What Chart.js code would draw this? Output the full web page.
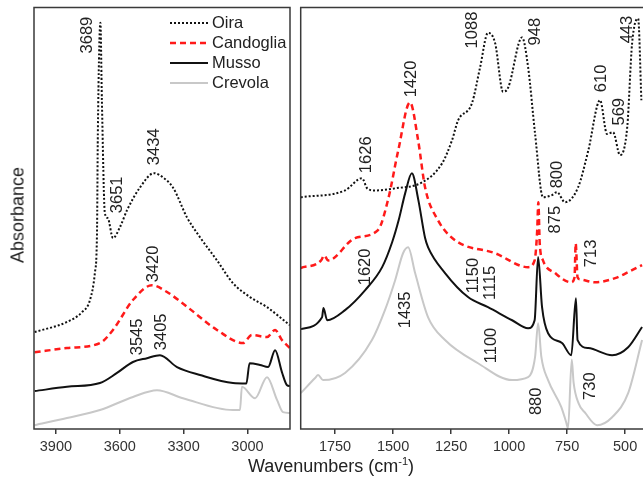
<!DOCTYPE html>
<html>
<head>
<meta charset="utf-8">
<script src="https://cdn.jsdelivr.net/npm/chart.js@4.4.0/dist/chart.umd.min.js"></script>
<style>
  html, body { margin: 0; padding: 0; background: #fff; width: 643px; height: 479px; overflow: hidden; }
  canvas { position: absolute; top: 0; }
  #leftChart { left: 0; }
  #rightChart { left: 293px; }
  .axis-title { position: absolute; font-family: "Liberation Sans", Arial, sans-serif; font-size: 18px; color: #222; white-space: nowrap; }
  .axis-title sup { font-size: 11px; line-height: 0; }
  #xTitle { left: 331px; top: 466px; transform: translate(-50%, -50%); }
  #yTitle { left: 18px; top: 215px; transform: translate(-50%, -50%) rotate(-90deg); }
</style>
</head>
<body>
<canvas id="leftChart" width="292" height="479"></canvas>
<canvas id="rightChart" width="350" height="479"></canvas>
<div id="xTitle" class="axis-title">Wavenumbers (cm<sup>-1</sup>)</div>
<div id="yTitle" class="axis-title">Absorbance</div>

<script>
// ---------------------------------------------------------------
// data (wavenumber / absorbance, arbitrary offset units)
// ---------------------------------------------------------------
const seriesNames = ['Oira', 'Candoglia', 'Musso', 'Crevola'];

const leftTicks = [3900, 3600, 3300, 3000];
const rightTicks = [1750, 1500, 1250, 1000, 750, 500];

// 4000 - 2800 cm-1
const oiraHighX = [4000, 3848, 3778, 3740, 3717, 3707, 3703, 3691, 3684, 3670, 3656, 3632, 3599, 3566, 3505, 3439, 3397, 3350, 3284, 3223, 3143, 3068, 2988, 2908, 2800];
const oiraHighY = [23, 25.4, 27.7, 30.6, 37, 46.4, 70, 96.4, 78, 51.2, 50, 45.3, 47.9, 51.9, 57.3, 60.7, 59.7, 57.3, 50.2, 45.5, 40, 34.6, 31.3, 28.9, 24.6];

const candHighX = [4000, 3848, 3693, 3632, 3538, 3449, 3378, 3284, 3143, 3021, 2979, 2908, 2870, 2838, 2800];
const candHighY = [18.2, 19.2, 20.4, 23.5, 30.6, 34.1, 32.5, 29, 23.5, 20.4, 22.3, 21.8, 23.5, 21.1, 19.2];

const mussoHighX = [4000, 3848, 3693, 3613, 3538, 3472, 3411, 3331, 3223, 3068, 3005, 2990, 2941, 2903, 2870, 2838, 2814, 2800];
const mussoHighY = [9, 10, 10.9, 13.3, 15.9, 16.8, 17.5, 14.7, 12.8, 10.9, 10.8, 15.6, 15.2, 14.7, 18.7, 13.5, 10.4, 10.2];

const crevHighX = [4000, 3848, 3693, 3538, 3425, 3303, 3068, 3035, 3026, 2964, 2908, 2861, 2833, 2800];
const crevHighY = [0.9, 2.6, 4.5, 7.6, 9.2, 7.3, 4.5, 4.5, 10, 7.3, 12.3, 6.9, 4, 3.8];

// 1900 - 420 cm-1
const oiraLowX = [1898, 1707, 1634, 1610, 1578, 1491, 1375, 1289, 1246, 1220, 1160, 1125, 1091, 1060, 1026, 1004, 944, 918, 888, 854, 815, 794, 759, 703, 659, 608, 578, 552, 522, 491, 470, 444, 430];
const oiraLowY = [55, 56.6, 59.5, 57, 56.6, 57.1, 58.5, 63, 68.5, 73.2, 77.3, 85.8, 94, 91.5, 80, 81, 92.9, 85.8, 70, 55, 55.5, 56.2, 53.8, 57.3, 66, 78, 70, 70.4, 65, 71.6, 91.5, 97.4, 78];

const candLowX = [1898, 1810, 1797, 1780, 1664, 1565, 1522, 1478, 1427, 1392, 1362, 1306, 1233, 1060, 918, 890, 879, 874, 868, 854, 802, 733, 718, 713, 705, 694, 629, 543, 487, 427];
const candLowY = [38.2, 40, 41.2, 40, 45.3, 47.2, 54.3, 66, 77.5, 68.5, 57.3, 49.5, 44.8, 41.7, 38.4, 40, 47, 53.8, 44, 40, 37, 34.8, 36, 44, 36, 35.5, 34.8, 35.8, 37.2, 38.9];

const mussoLowX = [1898, 1806, 1800, 1784, 1707, 1621, 1547, 1504, 1476, 1448, 1419, 1391, 1362, 1349, 1276, 1177, 1091, 987, 918, 890, 875, 858, 832, 772, 732, 712, 705, 659, 556, 487, 427];
const mussoLowY = [23.7, 26.5, 28.7, 25.8, 28.2, 32.9, 38.4, 44.3, 49.5, 55.9, 60.7, 54.3, 45.3, 43.1, 37, 31.3, 28.9, 25.8, 23.9, 25.8, 40.8, 28.9, 22.7, 20.4, 17.5, 31, 21.1, 19.2, 17.5, 19.4, 24.2];

const crevLowX = [1898, 1836, 1823, 1802, 1707, 1591, 1535, 1491, 1457, 1435, 1405, 1349, 1276, 1134, 987, 918, 888, 875, 861, 832, 775, 754, 746, 730, 722, 700, 672, 621, 556, 487, 427];
const crevLowY = [8.5, 12.1, 12.8, 11.6, 13.3, 21.1, 28.2, 35.3, 41.7, 43.1, 37, 26.5, 21.1, 15.6, 11.6, 12.3, 17.1, 25.1, 17.1, 11.6, 5.2, 1.6, 0.2, 16.5, 11, 6, 3.8, 0.9, 2.8, 8.5, 21.1];

// peak labels: text, wavenumber, absorbance at the foot of the text
const leftPeaks = [
  ['3689', 3750, 89.1], ['3651', 3609, 51.2], ['3434', 3435, 62.6],
  ['3420', 3440, 34.8], ['3545', 3515, 17.5], ['3405', 3402, 18.7]
];
const rightPeaks = [
  ['1626', 1613, 60.7], ['1420', 1419, 78.7], ['1088', 1158, 90.3], ['948', 885, 91],
  ['800', 792, 57.1], ['875', 799, 46.4], ['610', 600, 79.9], ['569', 526, 72], ['443', 490, 91.5],
  ['1620', 1619, 34.1], ['1150', 1152, 32.2], ['1115', 1079, 30.6], ['713', 645, 38.4],
  ['1435', 1448, 23.9], ['1100', 1075, 15.6], ['880', 881, 3.3], ['730', 651, 6.9]
];

// ---------------------------------------------------------------
// styles
// ---------------------------------------------------------------
const FONT = '"Liberation Sans", Arial, sans-serif';
const AXIS_COLOR = '#3a3a3a';
const styles = [
  { color: '#111111', width: 2,   dash: [2, 2] },
  { color: '#ff1a1a', width: 2.5, dash: [6, 4] },
  { color: '#111111', width: 2,   dash: [] },
  { color: '#c8c8c8', width: 2,   dash: [] }
];

function toPoints(xs, ys) {
  return xs.map((x, i) => ({ x: x, y: ys[i] }));
}

function makeDatasets(lists) {
  return lists.map((pair, i) => ({
    label: seriesNames[i],
    data: toPoints(pair[0], pair[1]),
    borderColor: styles[i].color,
    borderWidth: styles[i].width,
    borderDash: styles[i].dash,
    pointRadius: 0,
    fill: false,
    cubicInterpolationMode: 'monotone'
  })).reverse(); // grey drawn first, dotted on top
}

// frame around the plot area
const framePlugin = {
  id: 'frame',
  afterDatasetsDraw(chart, args, opts) {
    const { ctx, chartArea: a } = chart;
    ctx.save();
    ctx.strokeStyle = AXIS_COLOR;
    ctx.lineWidth = 1.5;
    ctx.beginPath();
    if (opts.closed) {
      ctx.rect(a.left, a.top, a.right - a.left, a.bottom - a.top);
    } else {
      ctx.moveTo(a.right + 2, a.top);
      ctx.lineTo(a.left, a.top);
      ctx.lineTo(a.left, a.bottom);
      ctx.lineTo(a.right + 2, a.bottom);
    }
    ctx.stroke();
    ctx.restore();
  }
};

// vertical peak labels
const peakPlugin = {
  id: 'peaks',
  afterDatasetsDraw(chart, args, opts) {
    const { ctx, scales } = chart;
    ctx.save();
    ctx.fillStyle = '#222';
    ctx.font = '16.5px ' + FONT;
    ctx.textAlign = 'left';
    ctx.textBaseline = 'middle';
    opts.items.forEach(p => {
      const px = scales.x.getPixelForValue(p[1]);
      const py = scales.y.getPixelForValue(p[2]);
      ctx.save();
      ctx.translate(px, py);
      ctx.rotate(-Math.PI / 2);
      ctx.fillText(p[0], 0, 0);
      ctx.restore();
    });
    ctx.restore();
  }
};

// legend box inside the left panel
const legendPlugin = {
  id: 'boxLegend',
  afterDatasetsDraw(chart, args, opts) {
    if (!opts.show) return;
    const ctx = chart.ctx;
    ctx.save();
    ctx.font = '16.5px ' + FONT;
    ctx.textBaseline = 'middle';
    ctx.fillStyle = '#222';
    seriesNames.forEach((name, i) => {
      const y = 23 + i * 20;
      ctx.beginPath();
      ctx.strokeStyle = styles[i].color;
      ctx.lineWidth = styles[i].width;
      ctx.setLineDash(styles[i].dash);
      ctx.moveTo(170, y);
      ctx.lineTo(208, y);
      ctx.stroke();
      ctx.setLineDash([]);
      ctx.fillText(name, 212, y);
    });
    ctx.restore();
  }
};

function buildChart(canvasId, datasets, xMin, xMax, ticks, peaks, padding, closed, showLegend) {
  return new Chart(document.getElementById(canvasId), {
    type: 'line',
    data: { datasets: datasets },
    options: {
      responsive: false,
      animation: false,
      events: [],
      layout: { padding: padding },
      scales: {
        x: {
          type: 'linear',
          reverse: true,
          min: xMin,
          max: xMax,
          afterBuildTicks: s => { s.ticks = ticks.map(v => ({ value: v })); },
          afterFit: s => { s.height = 50; },
          grid: { drawOnChartArea: false, drawTicks: true, tickLength: 5, color: AXIS_COLOR, lineWidth: 1.5 },
          border: { display: false },
          ticks: {
            font: { family: FONT, size: 14.5 },
            color: '#333',
            padding: 4,
            maxRotation: 0,
            autoSkip: false,
            callback: v => String(v)
          }
        },
        y: { display: false, min: 0, max: 100 }
      },
      plugins: {
        legend: { display: false },
        tooltip: { enabled: false },
        frame: { closed: closed },
        peaks: { items: peaks },
        boxLegend: { show: showLegend }
      }
    },
    plugins: [framePlugin, peakPlugin, legendPlugin]
  });
}

buildChart('leftChart',
  makeDatasets([[oiraHighX, oiraHighY], [candHighX, candHighY], [mussoHighX, mussoHighY], [crevHighX, crevHighY]]),
  2800, 4003, leftTicks, leftPeaks,
  { left: 34, right: 2, top: 7.5, bottom: 0 }, true, true);

buildChart('rightChart',
  makeDatasets([[oiraLowX, oiraLowY], [candLowX, candLowY], [mussoLowX, mussoLowY], [crevLowX, crevLowY]]),
  423, 1898, rightTicks, rightPeaks,
  { left: 7.7, right: 0, top: 7.5, bottom: 0 }, false, false);
</script>
</body>
</html>
